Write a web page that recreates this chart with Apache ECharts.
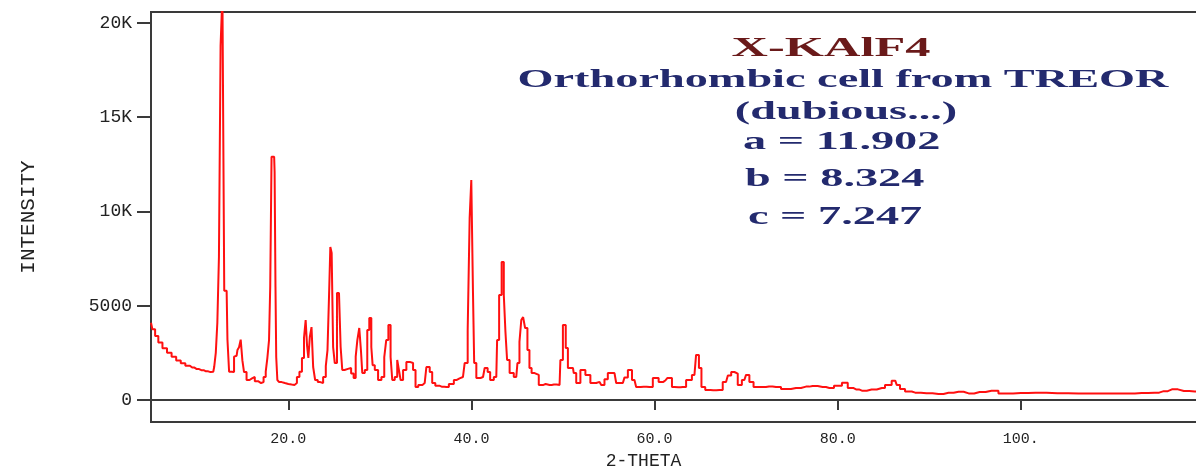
<!DOCTYPE html>
<html>
<head>
<meta charset="utf-8">
<title>X-KAlF4</title>
<script src="https://cdn.jsdelivr.net/npm/echarts@6/dist/echarts.min.js"></script>
<style>
  html, body { margin: 0; padding: 0; background: #fff; }
  #chart { width: 1196px; height: 471px; }
</style>
</head>
<body>
<div id="chart"></div>
<script>
// 2-theta positions (deg) and intensities (counts)
const twoTheta = [
  5.0, 5.3, 5.6, 6.0, 6.5, 7.0, 7.5, 8.0, 8.5, 9.0, 9.5, 10.0, 10.5, 11.0, 11.5, 11.8,
  12.0, 12.15, 12.34, 12.5, 12.7, 12.9, 13.1, 13.26, 13.44, 13.62, 13.98, 14.16, 14.35, 14.53, 14.7, 14.89,
  15.07, 15.25, 15.62, 15.9, 16.17, 16.5, 16.89, 17.15, 17.44, 17.62, 17.8, 17.98, 18.06, 18.27, 18.45, 18.55,
  18.64, 18.71, 18.89, 19.1, 19.44, 19.8, 20.2, 20.53, 20.8, 21.07, 21.35, 21.62, 21.8, 21.98, 22.1, 22.27,
  22.42, 22.64, 22.78, 23.07, 23.35, 23.62, 23.98, 24.2, 24.35, 24.53, 24.64, 24.82, 24.96, 25.18, 25.44, 25.62,
  25.8, 25.98, 26.3, 26.71, 27.0, 27.26, 27.45, 27.62, 27.87, 27.98, 28.17, 28.53, 28.71, 28.97, 29.15, 29.26,
  29.62, 29.98, 30.35, 30.6, 30.78, 31.07, 31.26, 31.44, 31.8, 31.98, 32.17, 32.35, 32.71, 33.07, 33.44, 33.8,
  33.98, 34.4, 34.89, 35.26, 35.62, 35.8, 36.3, 36.8, 37.26, 37.8, 38.35, 38.7, 39.07, 39.44, 39.73, 39.87,
  40.09, 40.24, 40.35, 40.71, 41.26, 41.62, 41.91, 42.17, 42.71, 42.89, 43.15, 43.44, 43.62, 43.8, 43.98, 44.35,
  44.89, 45.15, 45.33, 45.55, 45.73, 45.98, 46.24, 46.42, 46.71, 47.08, 47.62, 48.1, 48.53, 49.0, 49.62, 49.8,
  50.17, 50.42, 50.64, 51.08, 51.26, 51.62, 52.17, 52.71, 53.26, 53.99, 54.35, 54.7, 55.08, 55.62, 55.99, 56.53,
  56.9, 57.26, 57.8, 58.17, 58.8, 59.44, 60.17, 60.71, 61.2, 61.62, 62.17, 62.6, 63.08, 63.8, 64.35, 64.71,
  64.97, 65.26, 65.8, 66.4, 67.08, 67.8, 68.2, 68.53, 68.9, 69.26, 69.8, 70.17, 70.53, 71.08, 71.8, 72.5,
  73.26, 74.35, 75.44, 76.53, 77.26, 78.35, 79.08, 80.1, 80.82, 81.37, 82.0, 82.64, 83.7, 84.82, 85.5, 86.28,
  86.6, 87.0, 87.7, 88.46, 89.7, 91.0, 92.1, 93.2, 94.3, 95.5, 96.8, 98.3, 100.0, 101.6, 104.0, 106.3,
  109.0, 111.7, 113.2, 114.6, 115.6, 116.5, 117.8, 119.0, 120.0
];
const intensity = [
  4100, 3750, 3400, 3050, 2750, 2500, 2300, 2100, 1950, 1820, 1720, 1640, 1580, 1520, 1480, 1500,
  1750, 2500, 4100, 7600, 18800, 21500, 5800, 5800, 3200, 1500, 1480, 2300, 2350, 2650, 2800, 3200,
  2100, 1480, 1060, 1150, 1220, 1000, 900, 950, 1220, 1500, 2230, 3180, 6000, 12900, 12900, 12100,
  6000, 2280, 1060, 950, 900, 850, 820, 800, 900, 1220, 1500, 2230, 3300, 4240, 2900, 2230,
  3340, 3870, 1750, 1060, 950, 900, 1220, 1800, 2650, 5460, 8120, 7800, 2810, 1960, 5680, 5680,
  2810, 1590, 1650, 1700, 1400, 1170, 2300, 3180, 3820, 2650, 1430, 1590, 3710, 4350, 2810, 1850,
  1590, 1060, 1220, 2280, 3180, 3980, 2280, 1060, 1220, 2120, 1590, 1060, 1590, 2020, 1960, 1590,
  690, 800, 900, 1750, 1485, 900, 750, 700, 690, 850, 1060, 1150, 1220, 1960, 3710, 9650,
  11670, 5680, 1960, 1170, 1220, 1700, 1485, 1060, 1220, 3180, 5570, 7320, 5570, 3610, 2120, 1430,
  1220, 1960, 3080, 4240, 4400, 3820, 2650, 1700, 1430, 1330, 800, 850, 800, 820, 800, 2120,
  3980, 2760, 1700, 1700, 1430, 900, 1590, 1330, 900, 960, 800, 1100, 1430, 1430, 900, 900,
  1200, 1590, 1060, 690, 700, 690, 1170, 960, 1050, 1170, 690, 680, 690, 1060, 1330, 2390,
  1700, 690, 530, 520, 530, 955, 1300, 1485, 1400, 800, 1060, 1330, 960, 690, 690, 720,
  690, 580, 640, 710, 740, 690, 640, 760, 920, 640, 560, 495, 560, 640, 800, 1025,
  800, 585, 450, 390, 360, 320, 380, 440, 350, 420, 495, 350, 370, 390, 360, 350,
  350, 350, 370, 390, 470, 565, 480, 450, 450
];

// axis ticks and their labels
const xTicks = [20, 40, 60, 80, 100];
const xTickLabels = ['20.0', '40.0', '60.0', '80.0', '100.'];
const yTicks = [0, 5000, 10000, 15000, 20000];
const yTickLabels = ['0', '5000', '10K', '15K', '20K'];

// text block in the upper right corner
const sampleName = 'X-KAlF4';
const cellNote = ['Orthorhombic cell from TREOR', '(dubious...)'];
const cellParams = ['a = 11.902', 'b = 8.324', 'c = 7.247'];

const axisColor = '#3a3a3a';
const labelFont = '"Liberation Mono", "DejaVu Sans Mono", monospace';
const titleFont = '"Liberation Serif", "DejaVu Serif", serif';

const chart = echarts.init(document.getElementById('chart'));

const points = twoTheta.map((t, i) => [t, intensity[i]]);

chart.setOption({
  animation: false,
  backgroundColor: '#ffffff',
  grid: {
    left: 151,
    top: 12,
    right: -8,
    bottom: 49,
    outerBoundsMode: 'none',
    show: true,
    borderColor: axisColor,
    borderWidth: 2
  },
  xAxis: {
    type: 'value',
    min: 5,
    max: 120,
    name: '2-THETA',
    nameLocation: 'middle',
    nameGap: 30,
    nameTextStyle: {
      fontFamily: labelFont,
      fontSize: 18,
      color: '#222',
      padding: [0, 68, 0, 0]
    },
    splitLine: { show: false },
    axisLine: { show: true, lineStyle: { color: axisColor, width: 2 } },
    axisTick: {
      show: true,
      length: 10,
      customValues: xTicks,
      lineStyle: { color: axisColor, width: 2 }
    },
    axisLabel: {
      customValues: xTicks,
      margin: 10,
      fontFamily: labelFont,
      fontSize: 15,
      color: '#222',
      formatter: (v) => xTickLabels[xTicks.indexOf(v)]
    }
  },
  yAxis: {
    type: 'value',
    min: -1167,
    max: 20583,
    name: 'INTENSITY',
    nameLocation: 'middle',
    nameGap: 112,
    nameTextStyle: {
      fontFamily: labelFont,
      fontSize: 21,
      color: '#222'
    },
    splitLine: { show: false },
    axisLine: { show: true, lineStyle: { color: axisColor, width: 2 } },
    axisTick: {
      show: true,
      length: 14,
      customValues: yTicks,
      lineStyle: { color: axisColor, width: 2 }
    },
    axisLabel: {
      customValues: yTicks,
      margin: 19,
      fontFamily: labelFont,
      fontSize: 18,
      color: '#222',
      formatter: (v) => yTickLabels[yTicks.indexOf(v)]
    }
  },
  series: [{
    type: 'line',
    data: points,
    step: 'middle',
    showSymbol: false,
    clip: true,
    lineStyle: { color: '#ff1010', width: 2 }
  }],
  graphic: [
    {
      type: 'text', x: 831, y: 49, scaleX: 1.8,
      style: { text: sampleName, font: 'bold 28px ' + titleFont, fill: '#6a1a1a', align: 'center', verticalAlign: 'middle' }
    },
    {
      type: 'text', x: 843, y: 80, scaleX: 1.78,
      style: { text: cellNote[0], font: 'bold 26px ' + titleFont, fill: '#232a6e', align: 'center', verticalAlign: 'middle' }
    },
    {
      type: 'text', x: 846, y: 112, scaleX: 1.78,
      style: { text: cellNote[1], font: 'bold 26px ' + titleFont, fill: '#232a6e', align: 'center', verticalAlign: 'middle' }
    },
    {
      type: 'text', x: 743, y: 142, scaleX: 1.78,
      style: { text: cellParams[0], font: 'bold 26px ' + titleFont, fill: '#232a6e', align: 'left', verticalAlign: 'middle' }
    },
    {
      type: 'text', x: 745, y: 179, scaleX: 1.78,
      style: { text: cellParams[1], font: 'bold 26px ' + titleFont, fill: '#232a6e', align: 'left', verticalAlign: 'middle' }
    },
    {
      type: 'text', x: 748, y: 217, scaleX: 1.78,
      style: { text: cellParams[2], font: 'bold 26px ' + titleFont, fill: '#232a6e', align: 'left', verticalAlign: 'middle' }
    }
  ]
});

window.addEventListener('resize', () => chart.resize());
</script>
</body>
</html>
